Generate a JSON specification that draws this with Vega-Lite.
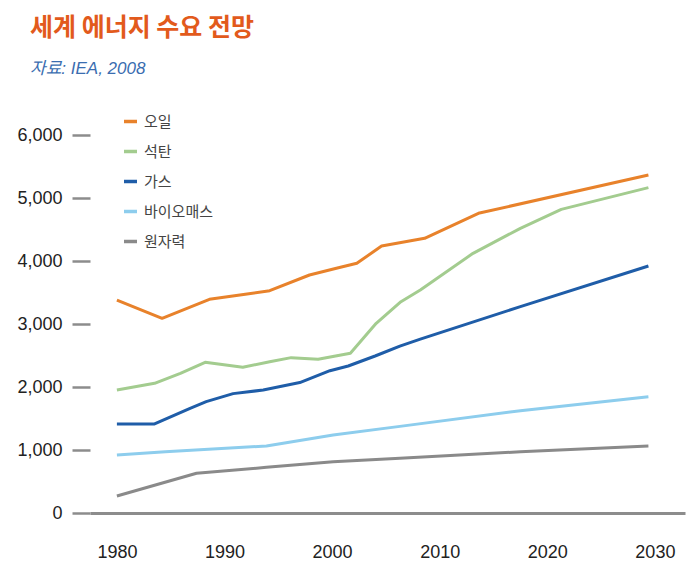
{
  "$schema": "https://vega.github.io/schema/vega-lite/v6.json",
  "autosize": {"type": "none"},
  "width": 595,
  "height": 378,
  "padding": {"left": 90, "top": 135, "right": 8, "bottom": 71},
  "background": "white",
  "title": {
    "text": "세계 에너지 수요 전망",
    "subtitle": "자료: IEA, 2008",
    "anchor": "start",
    "frame": "group",
    "dx": -60,
    "offset": 36,
    "font": "Noto Sans CJK KR",
    "fontSize": 25,
    "fontWeight": "bold",
    "color": "#E25A1C",
    "subtitleFont": "Liberation Sans, Noto Sans CJK KR",
    "subtitleFontSize": 17,
    "subtitleFontStyle": "italic",
    "subtitleColor": "#3A6DB0",
    "subtitlePadding": 20
  },
  "data": {
    "values": [
      {"year": 1980, "source": "오일", "value": 3380},
      {"year": 1984.2, "source": "오일", "value": 3090},
      {"year": 1988.6, "source": "오일", "value": 3392},
      {"year": 1992.1, "source": "오일", "value": 3476},
      {"year": 1994.2, "source": "오일", "value": 3529},
      {"year": 1997.9, "source": "오일", "value": 3778},
      {"year": 2000.4, "source": "오일", "value": 3884},
      {"year": 2002.3, "source": "오일", "value": 3963},
      {"year": 2004.6, "source": "오일", "value": 4238},
      {"year": 2008.6, "source": "오일", "value": 4360},
      {"year": 2013.6, "source": "오일", "value": 4757},
      {"year": 2029.4, "source": "오일", "value": 5365},

      {"year": 1980, "source": "석탄", "value": 1952},
      {"year": 1983.5, "source": "석탄", "value": 2058},
      {"year": 1985.9, "source": "석탄", "value": 2217},
      {"year": 1988.2, "source": "석탄", "value": 2392},
      {"year": 1991.7, "source": "석탄", "value": 2313},
      {"year": 1994.2, "source": "석탄", "value": 2402},
      {"year": 1996.2, "source": "석탄", "value": 2466},
      {"year": 1998.7, "source": "석탄", "value": 2440},
      {"year": 2001.7, "source": "석탄", "value": 2535},
      {"year": 2004.1, "source": "석탄", "value": 3011},
      {"year": 2006.4, "source": "석탄", "value": 3354},
      {"year": 2008.2, "source": "석탄", "value": 3540},
      {"year": 2013.1, "source": "석탄", "value": 4122},
      {"year": 2017.5, "source": "석탄", "value": 4519},
      {"year": 2021.3, "source": "석탄", "value": 4820},
      {"year": 2029.4, "source": "석탄", "value": 5164},

      {"year": 1980, "source": "가스", "value": 1413},
      {"year": 1983.5, "source": "가스", "value": 1413},
      {"year": 1986.8, "source": "가스", "value": 1662},
      {"year": 1988.3, "source": "가스", "value": 1767},
      {"year": 1990.8, "source": "가스", "value": 1895},
      {"year": 1993.6, "source": "가스", "value": 1952},
      {"year": 1997, "source": "가스", "value": 2070},
      {"year": 1999.8, "source": "가스", "value": 2259},
      {"year": 2001.5, "source": "가스", "value": 2333},
      {"year": 2004, "source": "가스", "value": 2492},
      {"year": 2006.3, "source": "가스", "value": 2650},
      {"year": 2008.2, "source": "가스", "value": 2760},
      {"year": 2017.5, "source": "가스", "value": 3275},
      {"year": 2029.4, "source": "가스", "value": 3921},

      {"year": 1980, "source": "바이오매스", "value": 921},
      {"year": 1984.5, "source": "바이오매스", "value": 973},
      {"year": 1993.9, "source": "바이오매스", "value": 1063},
      {"year": 2000.1, "source": "바이오매스", "value": 1238},
      {"year": 2006.3, "source": "바이오매스", "value": 1375},
      {"year": 2017.5, "source": "바이오매스", "value": 1624},
      {"year": 2029.4, "source": "바이오매스", "value": 1846},

      {"year": 1980, "source": "원자력", "value": 270},
      {"year": 1987.4, "source": "원자력", "value": 630},
      {"year": 1993.9, "source": "원자력", "value": 725},
      {"year": 2000.1, "source": "원자력", "value": 815},
      {"year": 2006.3, "source": "원자력", "value": 868},
      {"year": 2017.5, "source": "원자력", "value": 973},
      {"year": 2029.4, "source": "원자력", "value": 1063}
    ]
  },
  "mark": {"type": "line", "strokeWidth": 3, "strokeJoin": "round"},
  "encoding": {
    "x": {
      "field": "year",
      "type": "quantitative",
      "scale": {"domain": [1977.5, 2032.8], "nice": false, "zero": false},
      "axis": {
        "title": null,
        "values": [1980, 1990, 2000, 2010, 2020, 2030],
        "format": "d",
        "grid": false,
        "ticks": false,
        "domainColor": "#8C8C8C",
        "domainWidth": 3,
        "labelFont": "Liberation Sans, sans-serif",
        "labelFontSize": 18,
        "labelColor": "#222222",
        "labelPadding": 30
      }
    },
    "y": {
      "field": "value",
      "type": "quantitative",
      "scale": {"domain": [0, 6000], "nice": false},
      "axis": {
        "title": null,
        "values": [0, 1000, 2000, 3000, 4000, 5000, 6000],
        "format": ",d",
        "grid": false,
        "domain": false,
        "tickSize": 18,
        "tickWidth": 2.5,
        "tickColor": "#8C8C8C",
        "labelFont": "Liberation Sans, sans-serif",
        "labelFontSize": 18,
        "labelColor": "#222222",
        "labelPadding": 10
      }
    },
    "color": {
      "field": "source",
      "type": "nominal",
      "sort": ["오일", "석탄", "가스", "바이오매스", "원자력"],
      "scale": {
        "domain": ["오일", "석탄", "가스", "바이오매스", "원자력"],
        "range": ["#E8822B", "#A3CC8F", "#1F5DA8", "#8DCDED", "#8A8A8A"]
      },
      "legend": {
        "title": null,
        "orient": "none",
        "legendX": 32,
        "legendY": -22,
        "symbolType": "stroke",
        "symbolSize": 170,
        "symbolStrokeWidth": 3.5,
        "labelFont": "Noto Sans CJK KR",
        "labelFontSize": 15,
        "labelColor": "#444444",
        "labelOffset": 5,
        "rowPadding": 13
      }
    }
  },
  "config": {"view": {"stroke": null}}
}
